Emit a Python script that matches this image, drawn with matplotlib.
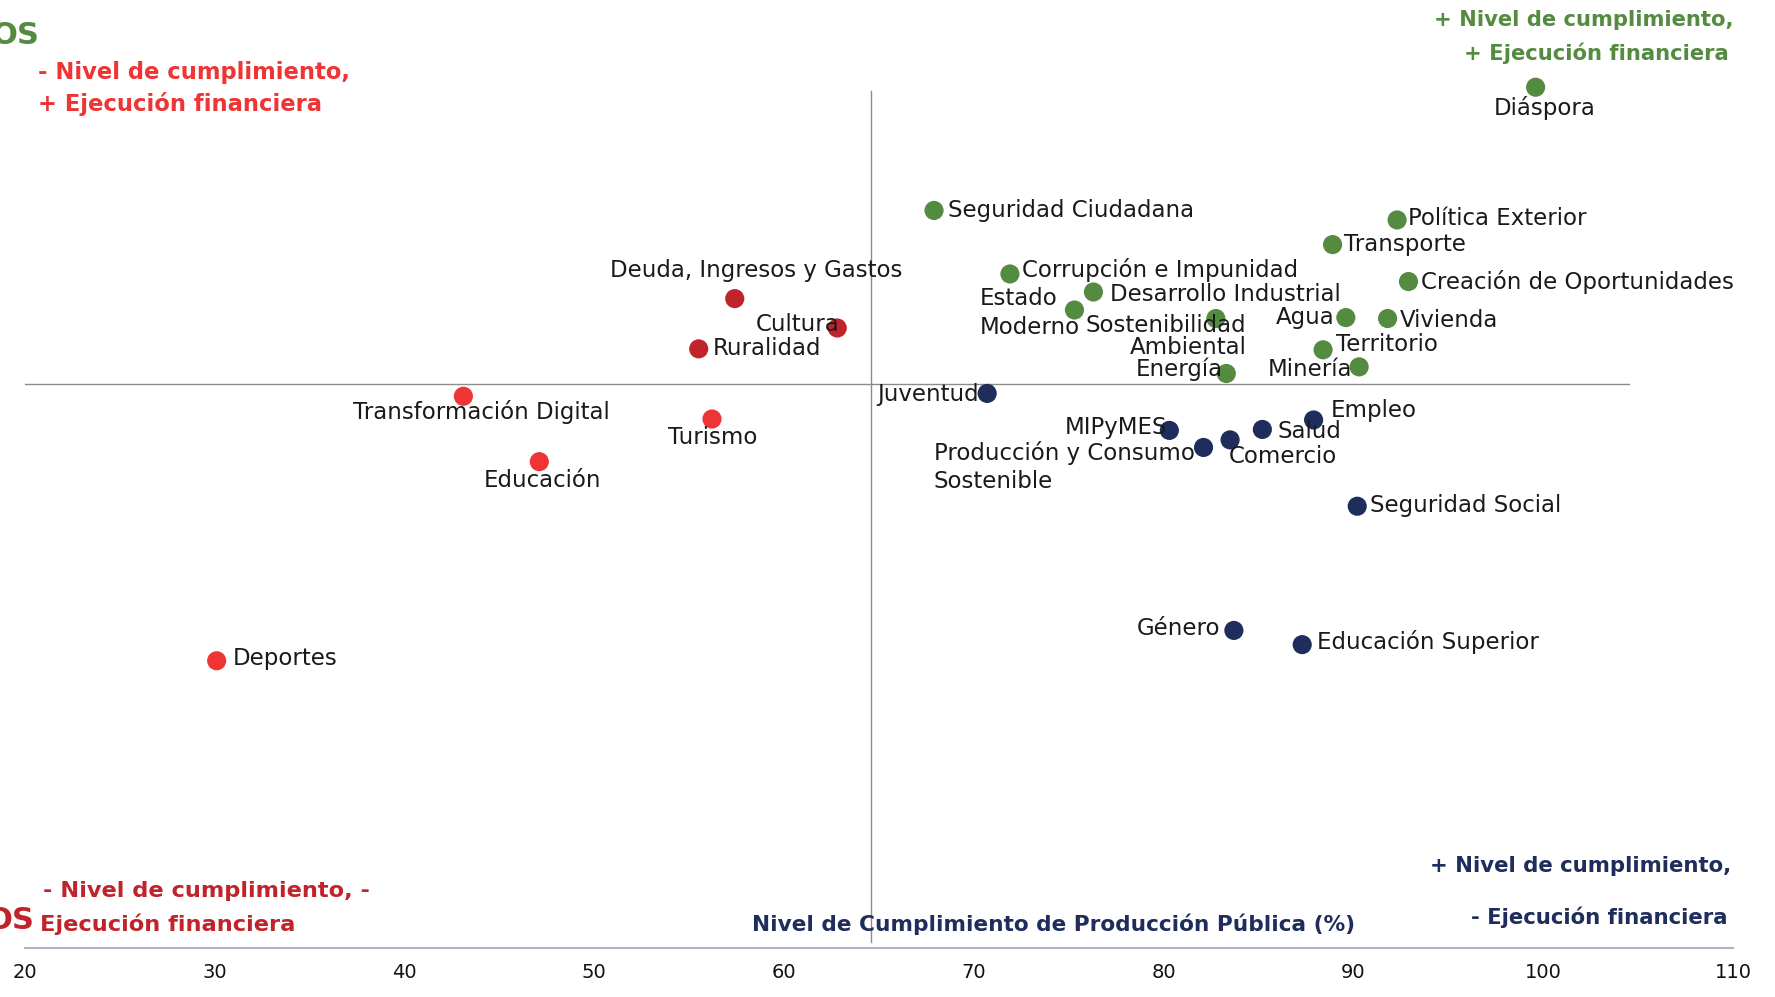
import matplotlib
matplotlib.use("Agg")
import matplotlib.pyplot as plt

# data: nivel de cumplimiento (x) vs ejecución financiera (y, escala relativa)
names = ["Diáspora", "Seguridad Ciudadana", "Política Exterior", "Transporte",
         "Creación de Oportunidades", "Corrupción e Impunidad", "Desarrollo Industrial",
         "Estado\nModerno", "Sostenibilidad\nAmbiental", "Agua", "Vivienda", "Territorio",
         "Minería", "Energía",
         "Deuda, Ingresos y Gastos", "Cultura", "Ruralidad",
         "Transformación Digital", "Turismo", "Educación", "Deportes",
         "Juventud", "MIPyMES", "Producción y Consumo\nSostenible", "Comercio", "Salud",
         "Empleo", "Seguridad Social", "Género", "Educación Superior"]
cumplimiento = [99.6, 67.9, 92.3, 88.9, 92.9, 71.9, 76.3, 75.3, 82.75, 89.6, 91.8, 88.4,
                90.3, 83.3,
                57.4, 62.8, 55.5,
                43.1, 56.2, 47.1, 30.1,
                70.7, 80.3, 82.1, 83.5, 85.2, 87.9, 90.2, 83.7, 87.3]
ejecucion = [90.8, 77.8, 76.8, 74.2, 70.3, 71.1, 69.2, 67.3, 66.4, 66.5, 66.4, 63.1,
             61.3, 60.6,
             68.5, 65.4, 63.2,
             58.2, 55.8, 51.3, 30.3,
             58.5, 54.6, 52.8, 53.6, 54.7, 55.7, 46.6, 33.5, 32.0]
grupo = ["alto"] * 14 + ["rojo"] * 3 + ["bajo"] * 4 + ["azul"] * 9

x_ticks = [20, 30, 40, 50, 60, 70, 80, 90, 100, 110]
x_corte = 64.6
y_corte = 59.5

GREEN = "#548b41"
DRED = "#c1232b"
RED = "#ee3434"
NAVY = "#1e2d5b"
colors = {"alto": GREEN, "rojo": DRED, "bajo": RED, "azul": NAVY}

# label offsets in points (dx, dy, ha, multialign, linespacing)
offsets = {
    "Diáspora": (6.5, -14.7, "center"),
    "Seguridad Ciudadana": (9.8, 0, "left"),
    "Política Exterior": (8, 1, "left"),
    "Transporte": (8, 0, "left"),
    "Creación de Oportunidades": (9, 0, "left"),
    "Corrupción e Impunidad": (9, 3, "left"),
    "Desarrollo Industrial": (12, -1.6, "left"),
    "Estado\nModerno": (4, -2.4, "right", "left", 1.32),
    "Sostenibilidad\nAmbiental": (22, -13.0, "right", "right", 0.95),
    "Agua": (-8, 0, "right"),
    "Vivienda": (9, -1.6, "left"),
    "Territorio": (9, 4, "left"),
    "Minería": (-5, -1.6, "right"),
    "Energía": (-2.4, 3.2, "right"),
    "Deuda, Ingresos y Gastos": (15.5, 20.4, "center"),
    "Cultura": (1.6, 2.4, "right"),
    "Ruralidad": (9.8, 0, "left"),
    "Transformación Digital": (13, -11.4, "center"),
    "Turismo": (0.8, -13, "center"),
    "Educación": (2.4, -13.9, "center"),
    "Deportes": (11.4, 1.6, "left"),
    "Juventud": (-5.7, -0.8, "right"),
    "MIPyMES": (-1.6, 2.4, "right"),
    "Producción y Consumo\nSostenible": (-6.5, -13.9, "right", "left", 1.28),
    "Comercio": (-0.8, -12.2, "left"),
    "Salud": (10.6, -1.6, "left"),
    "Empleo": (12.2, 6.5, "left"),
    "Seguridad Social": (9, 0.8, "left"),
    "Género": (-9.8, 1.6, "right"),
    "Educación Superior": (10.6, 1.6, "left"),
}

fig = plt.figure(figsize=(17.75, 9.97), dpi=100)
ax = fig.add_axes([25 / 1775, 49 / 997, 1708 / 1775, 948 / 997])
ax.set_xlim(20, 110)
ax.set_ylim(0, 100)

# quadrant lines
ax.plot([19.6, 104.5], [y_corte, y_corte], color="#8c8c8c", lw=1, zorder=1)
ax.plot([x_corte, x_corte], [0.6, 90.4], color="#8c8c8c", lw=1, zorder=1)

ax.scatter(cumplimiento, ejecucion, s=190, c=[colors[g] for g in grupo],
           edgecolors="none", zorder=3)

for n, xv, yv in zip(names, cumplimiento, ejecucion):
    o = offsets[n]
    malign = o[3] if len(o) > 3 else "left"
    lsp = o[4] if len(o) > 4 else 1.2
    ax.annotate(n, (xv, yv), xytext=(o[0], o[1]), textcoords="offset points",
                ha=o[2], va="center", multialignment=malign, fontsize=16.5,
                color="#1a1a1a", linespacing=lsp, zorder=4)

# quadrant captions
ax.text(110.05, 97.85, "+ Nivel de cumplimiento,", ha="right", va="center",
        fontsize=15.2, fontweight="bold", color=GREEN)
ax.text(109.75, 94.4, "+ Ejecución financiera", ha="right", va="center",
        fontsize=15.2, fontweight="bold", color=GREEN)
ax.text(20.66, 92.35, "- Nivel de cumplimiento,", ha="left", va="center",
        fontsize=16.3, fontweight="bold", color=RED)
ax.text(20.66, 89.0, "+ Ejecución financiera", ha="left", va="center",
        fontsize=16.3, fontweight="bold", color=RED)
ax.text(20.95, 5.97, "- Nivel de cumplimiento, -", ha="left", va="center",
        fontsize=16.2, fontweight="bold", color=DRED)
ax.text(20.8, 2.5, "Ejecución financiera", ha="left", va="center",
        fontsize=16.2, fontweight="bold", color=DRED)
ax.text(109.9, 8.6, "+ Nivel de cumplimiento,", ha="right", va="center",
        fontsize=15.3, fontweight="bold", color=NAVY)
ax.text(109.7, 3.2, "- Ejecución financiera", ha="right", va="center",
        fontsize=15.3, fontweight="bold", color=NAVY)
ax.text(20.77, 96.3, "OS", ha="right", va="center", fontsize=22, fontweight="bold",
        color=GREEN, clip_on=False)
ax.text(20.48, 2.87, "OS", ha="right", va="center", fontsize=22, fontweight="bold",
        color=DRED, clip_on=False)

ax.text(74.2, 2.5, "Nivel de Cumplimiento de Producción Pública (%)", ha="center",
        va="center", fontsize=15.6, fontweight="bold", color=NAVY)

for s in ["top", "left", "right"]:
    ax.spines[s].set_visible(False)
ax.spines["bottom"].set_color("#aab6c8")
ax.spines["bottom"].set_linewidth(1.5)
ax.set_xticks(x_ticks)
ax.tick_params(axis="x", length=0, pad=11, labelsize=14, labelcolor="#111111")
ax.set_yticks([])

fig.savefig("out.png", dpi=100)
